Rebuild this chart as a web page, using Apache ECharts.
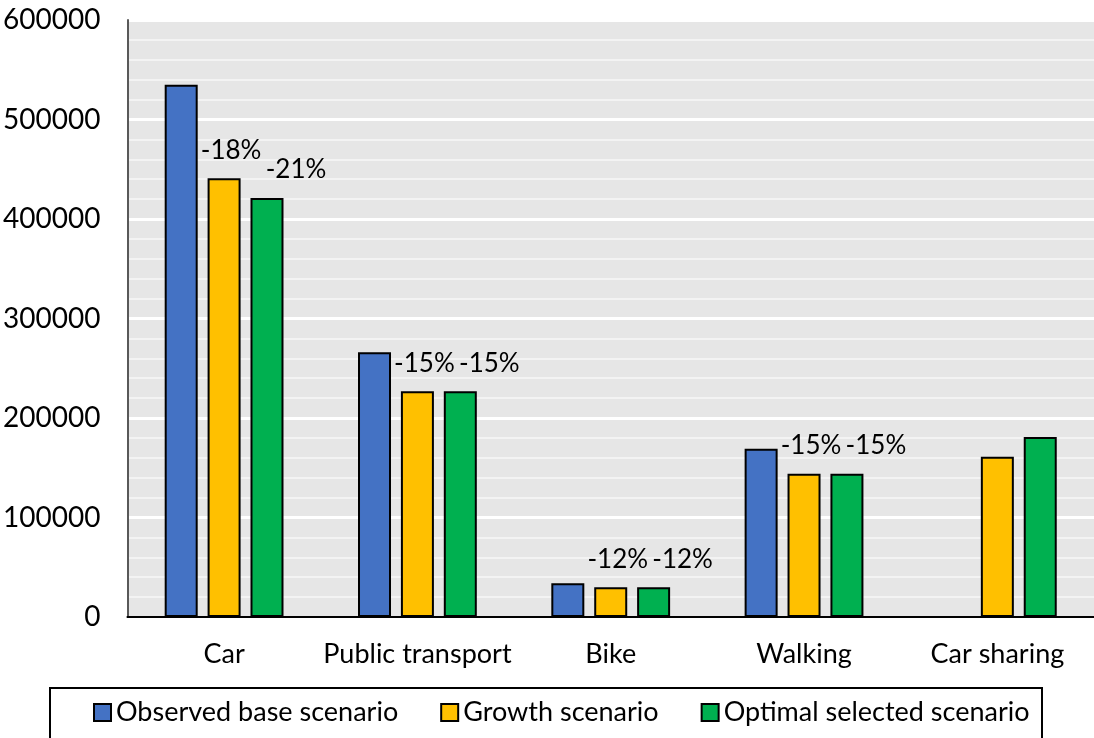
<!DOCTYPE html>
<html>
<head>
<meta charset="utf-8">
<title>Trips by mode and scenario</title>
<script src="https://cdn.jsdelivr.net/npm/echarts@6/dist/echarts.min.js"></script>
<style>
  html, body { margin: 0; padding: 0; background: #ffffff; }
  #chart { width: 1094px; height: 738px; }
</style>
</head>
<body>
<div id="chart"></div>
<script>
// Transport modes along the category axis
const modes = ['Car', 'Public transport', 'Bike', 'Walking', 'Car sharing'];

// Trip volumes per scenario (Car sharing has no observed base value)
const observedBase = [535000, 266000, 34000, 169000, null];
const growth = [441000, 227000, 30000, 144000, 161000];
const optimalSelected = [421000, 227000, 30000, 144000, 181000];

// Change against the observed base, shown above the scenario bars
const growthChange = ['-18%', '-15%', '-12%', '-15%', ''];
const optimalChange = ['-21%', '-15%', '-12%', '-15%', ''];

// Value axis ticks
const yTicks = [0, 100000, 200000, 300000, 400000, 500000, 600000];

const FONT = 'Lato, "Open Sans", sans-serif';
const barBorder = { borderColor: '#000000', borderWidth: 2 };

function changeLabel(list, dx) {
  return {
    show: true,
    position: 'top',
    distance: 15,
    offset: [dx, 0],
    fontFamily: FONT,
    fontSize: 26,
    color: '#000000',
    formatter: p => list[p.dataIndex]
  };
}

const chart = echarts.init(document.getElementById('chart'), null, { renderer: 'canvas' });

chart.setOption({
  animation: false,
  backgroundColor: '#ffffff',
  textStyle: { fontFamily: FONT },
  grid: {
    left: 127, top: 20, width: 973, height: 597,
    show: true, backgroundColor: '#e6e6e6', borderWidth: 0,
    containLabel: false
  },
  graphic: [{
    type: 'rect',
    shape: { x: 50, y: 688, width: 992, height: 70 },
    style: { fill: 'none', stroke: '#000000', lineWidth: 2 },
    silent: true
  }],
  legend: {
    left: 93, top: 699,
    padding: 0,
    icon: 'rect',
    itemWidth: 17, itemHeight: 17,
    itemGap: 42,
    textStyle: { fontFamily: FONT, fontSize: 27, color: '#000000' },
    data: ['Observed base scenario', 'Growth scenario', 'Optimal selected scenario']
  },
  xAxis: {
    type: 'category',
    data: modes,
    axisTick: { show: false },
    axisLine: { lineStyle: { color: '#000000', width: 2 } },
    axisLabel: { interval: 0, fontFamily: FONT, fontSize: 27, color: '#000000', margin: 24 },
    splitLine: { show: false }
  },
  yAxis: {
    type: 'value',
    min: yTicks[0],
    max: yTicks[yTicks.length - 1],
    interval: yTicks[1] - yTicks[0],
    axisLine: { show: true, lineStyle: { color: '#595959', width: 2 } },
    axisTick: { show: false },
    axisLabel: {
      fontFamily: FONT, fontSize: 28, color: '#000000', margin: 27,
      formatter: v => String(v)
    },
    splitLine: { show: true, lineStyle: { color: '#ffffff', width: 3 } },
    minorTick: { show: false, splitNumber: 5 },
    minorSplitLine: { show: true, lineStyle: { color: '#f3f3f3', width: 2 } }
  },
  series: [
    {
      name: 'Observed base scenario',
      type: 'bar',
      data: observedBase,
      barWidth: 33,
      barGap: '30%',
      itemStyle: Object.assign({ color: '#4472C4' }, barBorder)
    },
    {
      name: 'Growth scenario',
      type: 'bar',
      data: growth,
      barWidth: 33,
      barGap: '30%',
      itemStyle: Object.assign({ color: '#FFC000' }, barBorder),
      label: changeLabel(growthChange, 7)
    },
    {
      name: 'Optimal selected scenario',
      type: 'bar',
      data: optimalSelected,
      barWidth: 33,
      barGap: '30%',
      itemStyle: Object.assign({ color: '#00B050' }, barBorder),
      label: changeLabel(optimalChange, 29)
    }
  ]
});
</script>
</body>
</html>
